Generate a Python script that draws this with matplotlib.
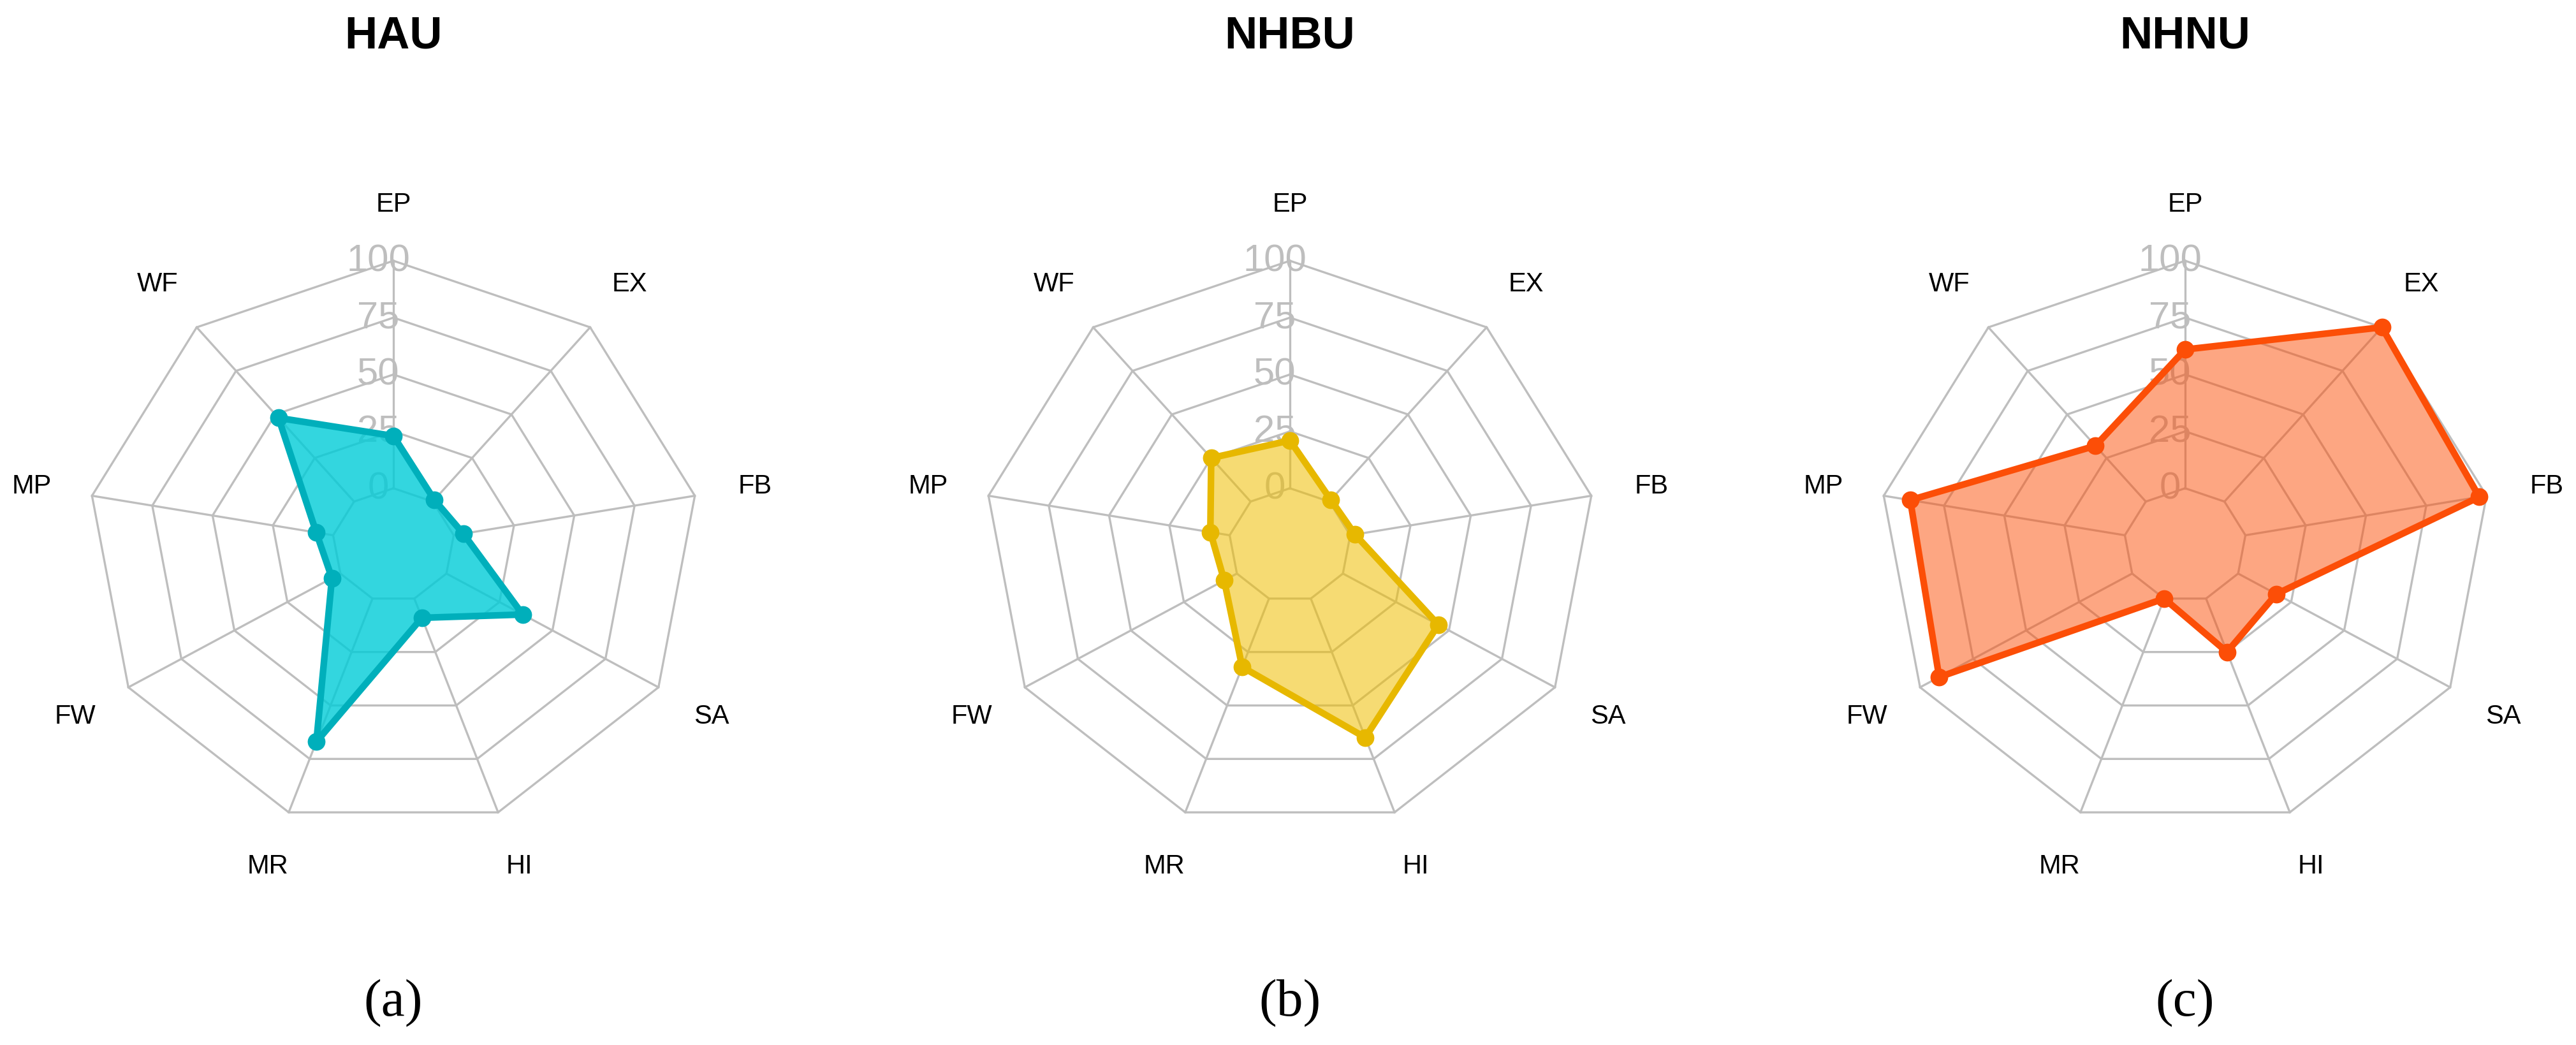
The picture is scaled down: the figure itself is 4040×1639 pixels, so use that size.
import numpy as np
import matplotlib.pyplot as plt

categories = ['EP', 'EX', 'FB', 'SA', 'HI', 'MR', 'FW', 'MP', 'WF']
grid_values = [0, 25, 50, 75, 100]
titles = ['HAU', 'NHBU', 'NHNU']
panel_tags = ['(a)', '(b)', '(c)']

hau = [23, 1, 4, 36, 9, 67, 4, 7, 48]
nhbu = [21, 1, 2, 45, 65, 32, 6, 8, 25]
nhnu = [61, 100, 97, 18, 25, 0, 91, 89, 32]

line_colors = ['#00AFBB', '#E7B800', '#FC4E07']
fill_colors = ['#00CCD8', '#F0BE00', '#FC4E07']
fill_alpha = [0.8, 0.55, 0.5]

GRID = '#BEBEBE'
W, H = 4040, 1640


def to_r(v):
    # fmsb style: value 0 sits on the first ring, not at the centre
    return (1 + 4 * np.asarray(v, dtype=float) / 100) / 5


def radar(ax, values, lc, fc, alpha):
    n = len(categories)
    ang = np.deg2rad(90 - 360 / n * np.arange(n))
    ca, sa = np.cos(ang), np.sin(ang)

    # rings
    for g in grid_values:
        r = to_r(g)
        ax.plot(np.append(r * ca, r * ca[0]), np.append(r * sa, r * sa[0]),
                color=GRID, lw=2.4, zorder=1)
    # spokes
    r0, r1 = to_r(0), to_r(100)
    for c, s in zip(ca, sa):
        ax.plot([r0 * c, r1 * c], [r0 * s, r1 * s], color=GRID, lw=2.4, zorder=1)
    # ring labels
    for g in grid_values:
        ax.text(-0.05, to_r(g), str(g), color=GRID, fontsize=43,
                ha='center', va='center', family='Liberation Sans', zorder=2)
    # category labels
    for name, c, s in zip(categories, ca, sa):
        ax.text(1.2 * c, 1.2 * s, name, fontsize=30, ha='center', va='center',
                family='Liberation Sans', color='black', zorder=2)

    r = to_r(values)
    x, y = r * ca, r * sa
    ax.fill(x, y, color=fc, alpha=alpha, lw=0, zorder=3)
    ax.plot(np.append(x, x[0]), np.append(y, y[0]), color=lc, lw=7.5,
            solid_joinstyle='round', zorder=4)
    ax.plot(x, y, 'o', color=lc, ms=19, zorder=5)

    ax.set_xlim(-1.45, 1.45)
    ax.set_ylim(-1.45, 1.45)
    ax.axis('off')


fig = plt.figure(figsize=(W / 100, H / 100), dpi=100)

centers = [617, 2023, 3427]
rx, ry, cy = 480, 446, H - 856
series = [hau, nhbu, nhnu]

for i, vals in enumerate(series):
    cx = centers[i]
    ax = fig.add_axes([(cx - 1.45 * rx) / W, (cy - 1.45 * ry) / H,
                       2.9 * rx / W, 2.9 * ry / H])
    radar(ax, vals, line_colors[i], fill_colors[i], fill_alpha[i])
    fig.text(cx / W, (H - 75) / H, titles[i], ha='center', va='baseline',
             fontsize=51, fontweight='bold', family='Liberation Sans')
    fig.text(cx / W, (H - 1593) / H, panel_tags[i], ha='center', va='baseline',
             fontsize=60, family='Liberation Serif')

fig.savefig('out.png', dpi=100, facecolor='white')
